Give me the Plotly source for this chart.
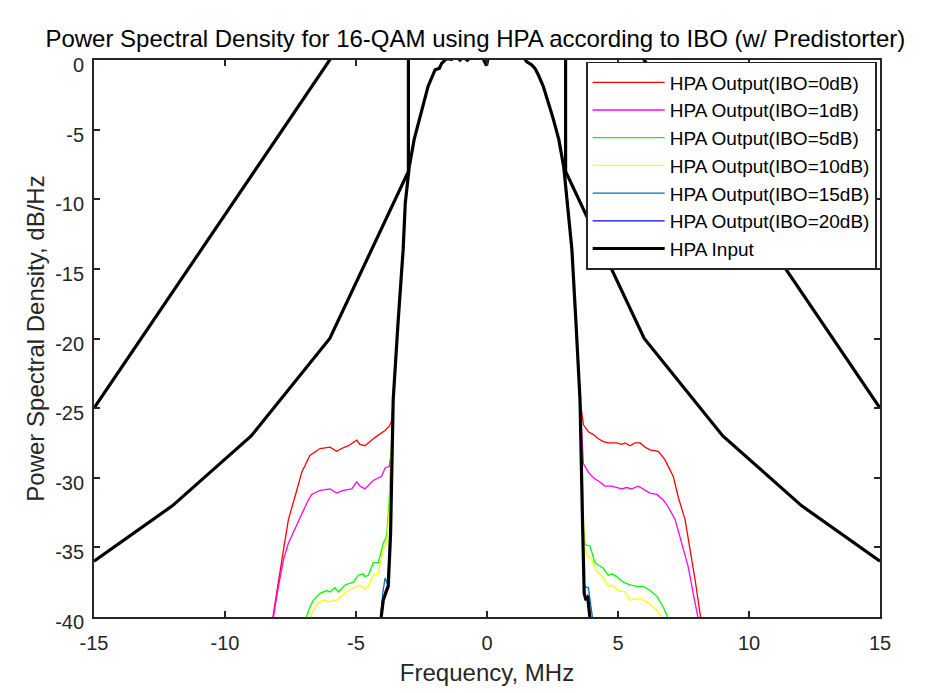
import plotly.graph_objects as go

# ---------------- data ----------------
# shared main lobe (between the skirts), frequency in MHz, PSD in dB/Hz
lobe_f = [-3.58, -3.40, -3.20, -3.12, -2.97, -2.78, -2.55, -2.25, -1.98, -1.82, -1.73,
          -1.54, -1.35, -1.20, -1.03, -0.90, -0.75, -0.50, -0.20, -0.02, 0.05, 0.30,
          0.60, 0.80, 1.00, 1.20, 1.39, 1.51, 1.71, 1.83, 1.96, 2.15, 2.51, 2.74,
          2.93, 3.08, 3.24, 3.40, 3.55]
lobe_p = [-24.4, -19.0, -13.6, -10.3, -7.7, -5.7, -4.1, -1.9, -0.7, -0.6, -0.24,
          0.1, 0.05, 0.3, 0.0, 0.2, -0.02, 0.4, 0.3, -0.4, 0.2, 0.5,
          0.4, 0.6, 0.5, 0.4, 0.24, -0.12, -0.36, -0.6, -1.08, -1.9, -4.1, -5.7,
          -7.7, -10.3, -13.6, -19.0, -24.4]

# HPA input skirts
in_left_f = [-4.30, -4.06, -3.96, -3.85, -3.77, -3.68]
in_left_p = [-44.0, -40.1, -38.8, -38.2, -37.8, -34.0]
in_right_f = [3.65, 3.71, 3.78, 3.84, 3.93, 4.15]
in_right_p = [-33.5, -38.3, -38.8, -38.5, -40.1, -44.0]

# IBO = 0 dB
ibo0_left_f = [-8.40, -8.18, -7.77, -7.58, -7.26, -7.07, -6.76, -6.37, -5.99, -5.74, -5.55,
               -5.29, -4.97, -4.85, -4.66, -4.27, -3.89, -3.73, -3.64]
ibo0_left_p = [-44.0, -40.1, -35.2, -33.0, -30.9, -29.6, -28.4, -27.9, -27.8, -28.1, -27.9,
               -27.7, -27.3, -27.6, -27.7, -27.1, -26.6, -26.3, -25.9]
ibo0_right_f = [3.68, 3.87, 4.06, 4.25, 4.44, 4.63, 4.95, 5.14, 5.27, 5.46, 5.65, 5.84,
                6.03, 6.22, 6.54, 6.79, 7.11, 7.30, 7.56, 7.75, 7.94, 8.16, 8.40]
ibo0_right_p = [-26.2, -26.7, -26.9, -27.2, -27.4, -27.5, -27.5, -27.6, -27.5, -27.7, -27.5, -27.5,
                -27.8, -28.0, -28.1, -28.7, -29.9, -31.4, -33.0, -35.0, -37.3, -40.1, -44.0]

# IBO = 1 dB
ibo1_left_f = [-8.38, -8.16, -7.96, -7.77, -7.58, -7.26, -7.07, -6.82, -6.69, -6.37, -5.99,
               -5.74, -5.48, -5.16, -4.97, -4.85, -4.66, -4.34, -4.02, -3.89, -3.73, -3.64]
ibo1_left_p = [-44.0, -40.1, -37.8, -35.9, -34.7, -33.3, -32.6, -31.6, -31.2, -30.9, -30.8,
               -31.1, -30.9, -30.8, -30.3, -30.6, -30.8, -30.2, -29.9, -29.3, -29.2, -28.0]
ibo1_right_f = [3.62, 3.68, 3.87, 4.06, 4.31, 4.50, 4.76, 4.95, 5.14, 5.33, 5.52, 5.78, 5.97,
                6.22, 6.48, 6.73, 6.92, 7.18, 7.43, 7.68, 7.87, 8.06, 8.30]
ibo1_right_p = [-26.0, -29.0, -29.6, -30.0, -30.3, -30.6, -30.6, -30.7, -30.8, -30.7, -30.8, -30.6, -30.8,
                -31.1, -31.2, -31.6, -32.1, -33.0, -34.7, -36.4, -38.3, -40.1, -44.0]

# IBO = 5 dB
ibo5_left_f = [-7.10, -6.91, -6.76, -6.63, -6.37, -6.12, -5.99, -5.80, -5.67, -5.42, -5.10,
               -4.91, -4.72, -4.66, -4.53, -4.34, -4.15, -3.96, -3.83, -3.73]
ibo5_left_p = [-42.0, -40.1, -39.3, -38.8, -38.3, -38.1, -38.2, -37.9, -38.2, -37.7, -37.5,
               -37.0, -36.9, -37.1, -37.0, -36.1, -36.1, -34.7, -34.2, -31.6]
ibo5_right_f = [3.68, 3.74, 3.93, 4.12, 4.44, 4.63, 4.76, 4.95, 5.20, 5.46, 5.71, 5.97,
                6.22, 6.48, 6.73, 6.92, 7.10]
ibo5_right_p = [-33.5, -34.8, -34.9, -36.1, -36.5, -37.0, -36.9, -37.1, -37.5, -37.7, -37.8, -37.8,
                -38.1, -38.5, -39.3, -40.1, -42.0]

# IBO = 10 dB
ibo10_left_f = [-6.95, -6.76, -6.63, -6.44, -6.25, -5.99, -5.74, -5.36, -5.10, -4.85, -4.66,
                -4.53, -4.34, -4.15, -3.96, -3.83, -3.73]
ibo10_left_p = [-42.0, -40.1, -39.5, -39.0, -38.8, -38.9, -38.8, -38.2, -37.9, -37.7, -38.0,
                -37.8, -37.0, -36.9, -35.1, -34.8, -32.3]
ibo10_right_f = [3.71, 3.81, 4.00, 4.19, 4.44, 4.63, 4.76, 5.01, 5.27, 5.46, 5.65, 5.90,
                 6.16, 6.48, 6.71, 6.90]
ibo10_right_p = [-34.8, -35.5, -35.9, -36.7, -37.2, -37.8, -37.7, -38.1, -38.2, -38.8, -38.7, -38.7,
                 -39.0, -39.5, -40.1, -42.0]

# IBO = 15 dB
ibo15_left_f = [-4.25, -4.08, -3.98, -3.89, -3.81, -3.73]
ibo15_left_p = [-44.0, -40.1, -38.3, -37.2, -37.6, -35.9]
ibo15_right_f = [3.65, 3.71, 3.87, 3.93, 4.03, 4.20]
ibo15_right_p = [-33.5, -37.8, -37.9, -38.8, -40.1, -44.0]

# IBO = 20 dB
ibo20_left_f = [-4.28, -4.05, -3.95, -3.86, -3.77, -3.68]
ibo20_left_p = [-44.0, -40.1, -38.6, -38.0, -37.7, -34.0]
ibo20_right_f = [3.65, 3.71, 3.79, 3.85, 3.94, 4.16]
ibo20_right_p = [-33.5, -38.2, -38.7, -38.4, -40.1, -44.0]

# spectral masks
mask_in_f = [-15, -12, -9, -6, -3, -3, None, 3, 3, 6, 9, 12, 15]
mask_in_p = [-36, -32, -27, -20, -8, 5, None, 5, -8, -20, -27, -32, -36]
mask_out_f = [-15, -6, -5.5, None, 5.5, 6, 15]
mask_out_p = [-25, 0, 1.4, None, 1.4, 0, -25]

series_names = ["HPA Output(IBO=0dB)", "HPA Output(IBO=1dB)", "HPA Output(IBO=5dB)",
                "HPA Output(IBO=10dB)", "HPA Output(IBO=15dB)", "HPA Output(IBO=20dB)"]
series_colors = ["#FF0000", "#FF00FF", "#00FF00", "#FFFF00", "#0072BD", "#0000FF"]

x_ticks = [-15, -10, -5, 0, 5, 10, 15]
y_ticks = [-40, -35, -30, -25, -20, -15, -10, -5, 0]

# ---------------- figure ----------------
skirts = [
    (ibo0_left_f, ibo0_left_p, ibo0_right_f, ibo0_right_p),
    (ibo1_left_f, ibo1_left_p, ibo1_right_f, ibo1_right_p),
    (ibo5_left_f, ibo5_left_p, ibo5_right_f, ibo5_right_p),
    (ibo10_left_f, ibo10_left_p, ibo10_right_f, ibo10_right_p),
    (ibo15_left_f, ibo15_left_p, ibo15_right_f, ibo15_right_p),
    (ibo20_left_f, ibo20_left_p, ibo20_right_f, ibo20_right_p),
]

FONT = "Liberation Sans, Arial"

fig = go.Figure()
for i, (lf, lp, rf, rp) in enumerate(skirts):
    fig.add_trace(go.Scatter(
        x=lf + lobe_f + rf, y=lp + lobe_p + rp, mode="lines",
        name=series_names[i],
        line=dict(color=series_colors[i], width=1.3)))

fig.add_trace(go.Scatter(
    x=in_left_f + lobe_f + in_right_f, y=in_left_p + lobe_p + in_right_p,
    mode="lines", name="HPA Input",
    line=dict(color="black", width=3.2)))

fig.add_trace(go.Scatter(x=mask_in_f, y=mask_in_p, mode="lines", showlegend=False,
                         line=dict(color="black", width=3.2)))
fig.add_trace(go.Scatter(x=mask_out_f, y=mask_out_p, mode="lines", showlegend=False,
                         line=dict(color="black", width=3.2)))

axis_common = dict(
    showgrid=False, zeroline=False, showline=True, linecolor="#262626", linewidth=1.8,
    mirror="allticks", ticks="inside", ticklen=6, tickwidth=1.5, tickcolor="#262626",
    tickfont=dict(family=FONT, size=20, color="#262626"),
)

fig.update_layout(
    width=932, height=693,
    margin=dict(l=94, r=52, t=60, b=76),
    paper_bgcolor="white", plot_bgcolor="white",
    title=dict(text="Power Spectral Density for 16-QAM using HPA according to IBO (w/ Predistorter)",
               x=0.51, xanchor="center", y=0.945, yanchor="middle",
               font=dict(family=FONT, size=24, color="black")),
    xaxis=dict(range=[-15, 15], tickvals=x_ticks, ticktext=[str(v) for v in x_ticks],
               ticklabelstandoff=7,
               title=dict(text="Frequency, MHz", standoff=11,
                          font=dict(family=FONT, size=24, color="#262626")),
               **axis_common),
    yaxis=dict(range=[-40, 0], tickvals=y_ticks, ticktext=[str(v) for v in y_ticks],
               ticklabelstandoff=4, ticklabelshift=5,
               title=dict(text="Power Spectral Density, dB/Hz", standoff=4,
                          font=dict(family=FONT, size=24, color="#262626")),
               **axis_common),
    legend=dict(x=0.996, xanchor="right", y=0.997, yanchor="top",
                bgcolor="white", bordercolor="#262626", borderwidth=1.8,
                font=dict(family=FONT, size=19, color="black"),
                itemwidth=72),
    showlegend=True,
)

fig.write_html("out.html")
